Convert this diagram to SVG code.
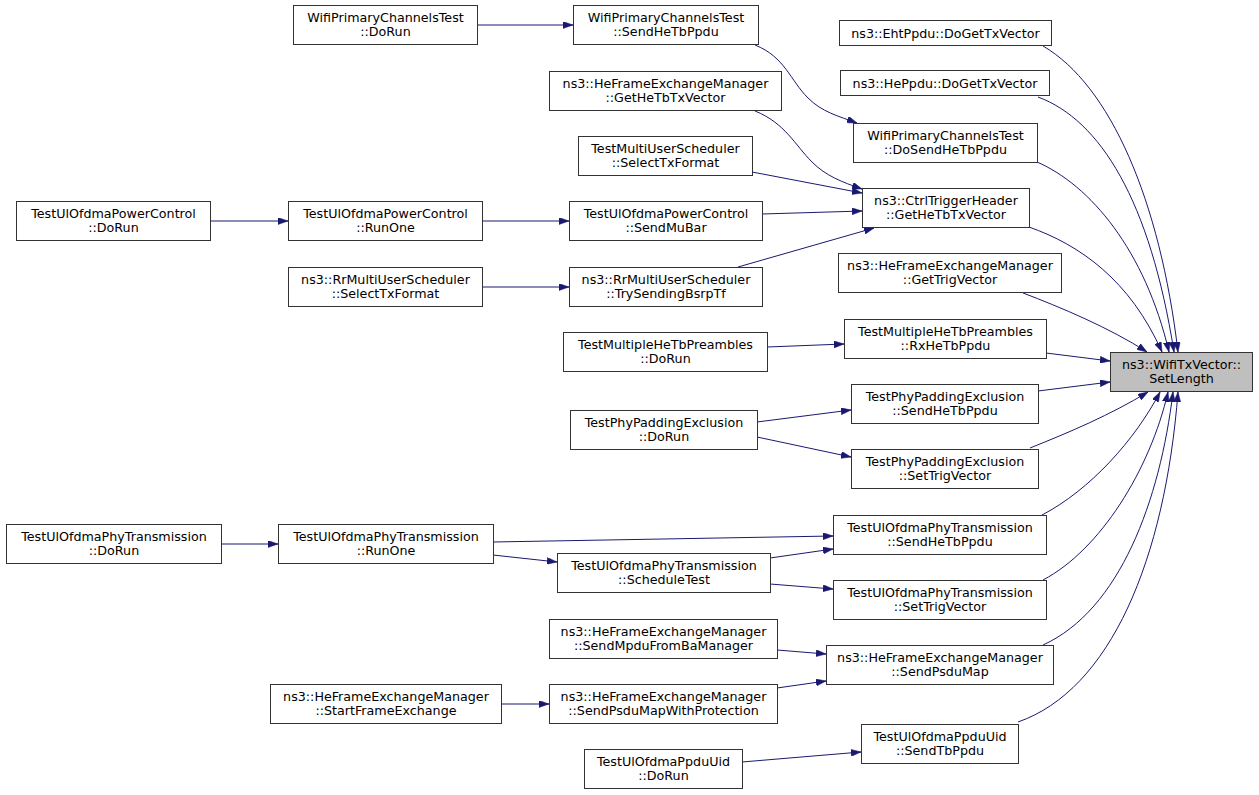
<svg xmlns="http://www.w3.org/2000/svg" width="1259" height="795" viewBox="0 0 1259 795">
<defs>
<marker id="ah" markerUnits="userSpaceOnUse" viewBox="0 0 10 7" refX="10" refY="3.5" markerWidth="10" markerHeight="7" orient="auto">
<path d="M0,0 L10,3.5 L0,7 z" fill="#191970" stroke="#191970" stroke-width="0.5"/>
</marker>
<style>
.n rect{fill:#fff;stroke:#333;stroke-width:1}
.n.root rect{fill:#bfbfbf}
.n text{font-family:"DejaVu Sans","Liberation Sans",sans-serif;font-size:12.7px;fill:#000;text-anchor:middle}
#edges path{fill:none;stroke:#191970;stroke-width:1;marker-end:url(#ah)}
</style>
</defs>
<rect width="1259" height="795" fill="#fff"/>
<g id="edges">
<path d="M477,25 L573,25"/>
<path d="M755,45 C785,57 790,80 808,98 C822,112 838,116 857,123"/>
<path d="M755,111 C785,123 795,145 812,162 C826,176 842,182 862,189"/>
<path d="M752,172 L862,193"/>
<path d="M210,221 L288,221"/>
<path d="M482,221 L569,221"/>
<path d="M762,214 L862,211"/>
<path d="M482,287 L569,287"/>
<path d="M738,267 L874,228"/>
<path d="M767,347 L844,344"/>
<path d="M757,422 L851,410"/>
<path d="M757,437 L851,457"/>
<path d="M221,544 L278,544"/>
<path d="M493,542 L833,536"/>
<path d="M493,555 L557,562"/>
<path d="M770,558 L833,549"/>
<path d="M770,584 L833,589"/>
<path d="M777,650 L826,654"/>
<path d="M777,688 L826,681"/>
<path d="M501,704 L549,704"/>
<path d="M742,762 L861,752"/>
<path d="M1043,46 C1110,85 1160,200 1178,352"/>
<path d="M1038,97 C1100,120 1150,200 1174,352"/>
<path d="M1037,162 C1090,185 1145,250 1169,352"/>
<path d="M1029,227 C1080,245 1130,280 1162,352"/>
<path d="M1023,293 C1060,307 1110,328 1147,352"/>
<path d="M1046,353 L1110,361"/>
<path d="M1038,391 L1110,382"/>
<path d="M1030,448 C1070,432 1110,415 1148,392"/>
<path d="M1042,515 C1090,490 1135,440 1160,392"/>
<path d="M1043,580 C1100,550 1150,470 1168,392"/>
<path d="M1043,645 C1120,610 1160,500 1173,392"/>
<path d="M1018,722 C1110,690 1165,560 1178,392"/>
</g>
<g id="n0" class="n root"><rect x="1110.5" y="352.5" width="142" height="39"/><text x="1181.5" y="369">ns3::WifiTxVector::</text><text x="1181.5" y="383">SetLength</text></g>
<g id="n1" class="n"><rect x="839.5" y="20.5" width="212" height="25"/><text x="945.5" y="37.5">ns3::EhtPpdu::DoGetTxVector</text></g>
<g id="n2" class="n"><rect x="840.5" y="70.5" width="209" height="25"/><text x="945" y="87.5">ns3::HePpdu::DoGetTxVector</text></g>
<g id="n3" class="n"><rect x="853.5" y="123.5" width="184" height="39"/><text x="945.5" y="140">WifiPrimaryChannelsTest</text><text x="945.5" y="154">::DoSendHeTbPpdu</text></g>
<g id="n4" class="n"><rect x="573.5" y="5.5" width="185" height="39"/><text x="666" y="22">WifiPrimaryChannelsTest</text><text x="666" y="36">::SendHeTbPpdu</text></g>
<g id="n5" class="n"><rect x="293.5" y="5.5" width="184" height="39"/><text x="385.5" y="22">WifiPrimaryChannelsTest</text><text x="385.5" y="36">::DoRun</text></g>
<g id="n6" class="n"><rect x="862.5" y="188.5" width="167" height="39"/><text x="946" y="205">ns3::CtrlTriggerHeader</text><text x="946" y="219">::GetHeTbTxVector</text></g>
<g id="n7" class="n"><rect x="549.5" y="71.5" width="232" height="39"/><text x="665.5" y="88">ns3::HeFrameExchangeManager</text><text x="665.5" y="102">::GetHeTbTxVector</text></g>
<g id="n8" class="n"><rect x="578.5" y="136.5" width="174" height="39"/><text x="665.5" y="153">TestMultiUserScheduler</text><text x="665.5" y="167">::SelectTxFormat</text></g>
<g id="n9" class="n"><rect x="569.5" y="201.5" width="193" height="39"/><text x="666" y="218">TestUlOfdmaPowerControl</text><text x="666" y="232">::SendMuBar</text></g>
<g id="n10" class="n"><rect x="288.5" y="201.5" width="194" height="39"/><text x="385.5" y="218">TestUlOfdmaPowerControl</text><text x="385.5" y="232">::RunOne</text></g>
<g id="n11" class="n"><rect x="16.5" y="201.5" width="194" height="39"/><text x="113.5" y="218">TestUlOfdmaPowerControl</text><text x="113.5" y="232">::DoRun</text></g>
<g id="n12" class="n"><rect x="569.5" y="267.5" width="193" height="39"/><text x="666" y="284">ns3::RrMultiUserScheduler</text><text x="666" y="298">::TrySendingBsrpTf</text></g>
<g id="n13" class="n"><rect x="288.5" y="267.5" width="194" height="39"/><text x="385.5" y="284">ns3::RrMultiUserScheduler</text><text x="385.5" y="298">::SelectTxFormat</text></g>
<g id="n14" class="n"><rect x="838.5" y="253.5" width="223" height="39"/><text x="950" y="270">ns3::HeFrameExchangeManager</text><text x="950" y="284">::GetTrigVector</text></g>
<g id="n15" class="n"><rect x="844.5" y="319.5" width="202" height="39"/><text x="945.5" y="336">TestMultipleHeTbPreambles</text><text x="945.5" y="350">::RxHeTbPpdu</text></g>
<g id="n16" class="n"><rect x="563.5" y="332.5" width="204" height="39"/><text x="665.5" y="349">TestMultipleHeTbPreambles</text><text x="665.5" y="363">::DoRun</text></g>
<g id="n17" class="n"><rect x="851.5" y="384.5" width="187" height="39"/><text x="945" y="401">TestPhyPaddingExclusion</text><text x="945" y="415">::SendHeTbPpdu</text></g>
<g id="n18" class="n"><rect x="851.5" y="449.5" width="187" height="39"/><text x="945" y="466">TestPhyPaddingExclusion</text><text x="945" y="480">::SetTrigVector</text></g>
<g id="n19" class="n"><rect x="570.5" y="410.5" width="187" height="39"/><text x="664" y="427">TestPhyPaddingExclusion</text><text x="664" y="441">::DoRun</text></g>
<g id="n20" class="n"><rect x="833.5" y="515.5" width="213" height="39"/><text x="940" y="532">TestUlOfdmaPhyTransmission</text><text x="940" y="546">::SendHeTbPpdu</text></g>
<g id="n21" class="n"><rect x="833.5" y="580.5" width="213" height="39"/><text x="940" y="597">TestUlOfdmaPhyTransmission</text><text x="940" y="611">::SetTrigVector</text></g>
<g id="n22" class="n"><rect x="557.5" y="553.5" width="213" height="39"/><text x="664" y="570">TestUlOfdmaPhyTransmission</text><text x="664" y="584">::ScheduleTest</text></g>
<g id="n23" class="n"><rect x="278.5" y="524.5" width="215" height="39"/><text x="386" y="541">TestUlOfdmaPhyTransmission</text><text x="386" y="555">::RunOne</text></g>
<g id="n24" class="n"><rect x="6.5" y="524.5" width="215" height="39"/><text x="114" y="541">TestUlOfdmaPhyTransmission</text><text x="114" y="555">::DoRun</text></g>
<g id="n25" class="n"><rect x="826.5" y="645.5" width="227" height="39"/><text x="940" y="662">ns3::HeFrameExchangeManager</text><text x="940" y="676">::SendPsduMap</text></g>
<g id="n26" class="n"><rect x="549.5" y="619.5" width="228" height="39"/><text x="663.5" y="636">ns3::HeFrameExchangeManager</text><text x="663.5" y="650">::SendMpduFromBaManager</text></g>
<g id="n27" class="n"><rect x="549.5" y="684.5" width="228" height="39"/><text x="663.5" y="701">ns3::HeFrameExchangeManager</text><text x="663.5" y="715">::SendPsduMapWithProtection</text></g>
<g id="n28" class="n"><rect x="270.5" y="684.5" width="231" height="39"/><text x="386" y="701">ns3::HeFrameExchangeManager</text><text x="386" y="715">::StartFrameExchange</text></g>
<g id="n29" class="n"><rect x="861.5" y="724.5" width="157" height="39"/><text x="940" y="741">TestUlOfdmaPpduUid</text><text x="940" y="755">::SendTbPpdu</text></g>
<g id="n30" class="n"><rect x="584.5" y="749.5" width="158" height="39"/><text x="663.5" y="766">TestUlOfdmaPpduUid</text><text x="663.5" y="780">::DoRun</text></g>
</svg>
